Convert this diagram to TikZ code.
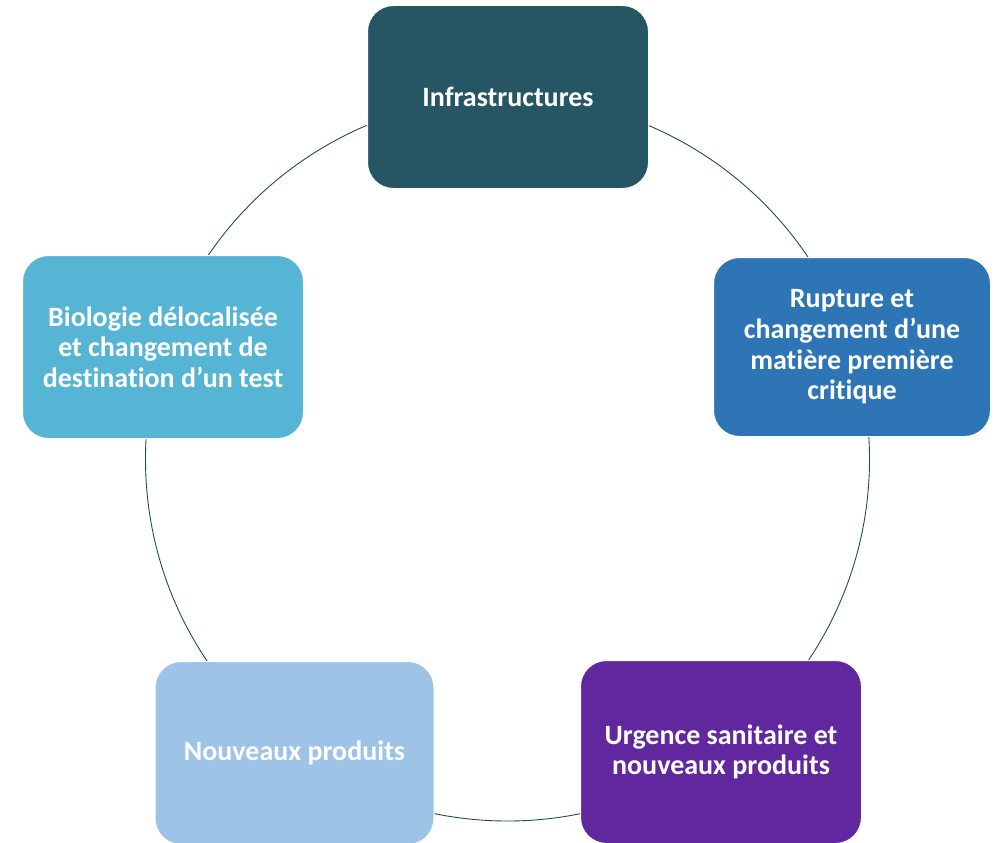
\documentclass[tikz,border=0pt]{standalone}
\usepackage{fontspec}
\setmainfont[Ligatures={NoCommon}]{Carlito}
\definecolor{cInfra}{HTML}{265664}
\definecolor{cRupt}{HTML}{2E75B6}
\definecolor{cUrg}{HTML}{60279E}
\definecolor{cNouv}{HTML}{9DC3E6}
\definecolor{cBio}{HTML}{56B4D5}
\definecolor{cRing}{HTML}{1F4E5A}
\begin{document}
\begin{tikzpicture}[x=1pt,y=-1pt,
  card/.style={rounded corners=26pt, minimum width=281pt, minimum height=183pt,
    draw=white, line width=1pt, text=white, align=center, inner sep=0pt,
    font=\fontsize{28}{30.7}\selectfont\bfseries},
  ring/.style={draw=cRing, line width=0.9pt}]
  \useasboundingbox (0,0) rectangle (1001,843);
  \draw[ring] (507.5,459) circle[radius=362pt];
  \node[card, fill=cInfra] (infra) at (508,97) {Infrastructures};
  \node[card, fill=cRupt, minimum width=277pt, minimum height=179pt] (rupt) at (852,347)
    {Rupture et\\changement d’une\\matière première\\critique};
  \node[card, fill=cUrg] (urg) at (721,752) {Urgence sanitaire et\\nouveaux produits};
  \node[card, fill=cNouv, minimum width=279pt] (nouv) at (294.5,753) {Nouveaux produits};
  \node[card, fill=cBio] (bio) at (163,347)
    {Biologie délocalisée\\et changement de\\destination d’un test};
\end{tikzpicture}
\end{document}
